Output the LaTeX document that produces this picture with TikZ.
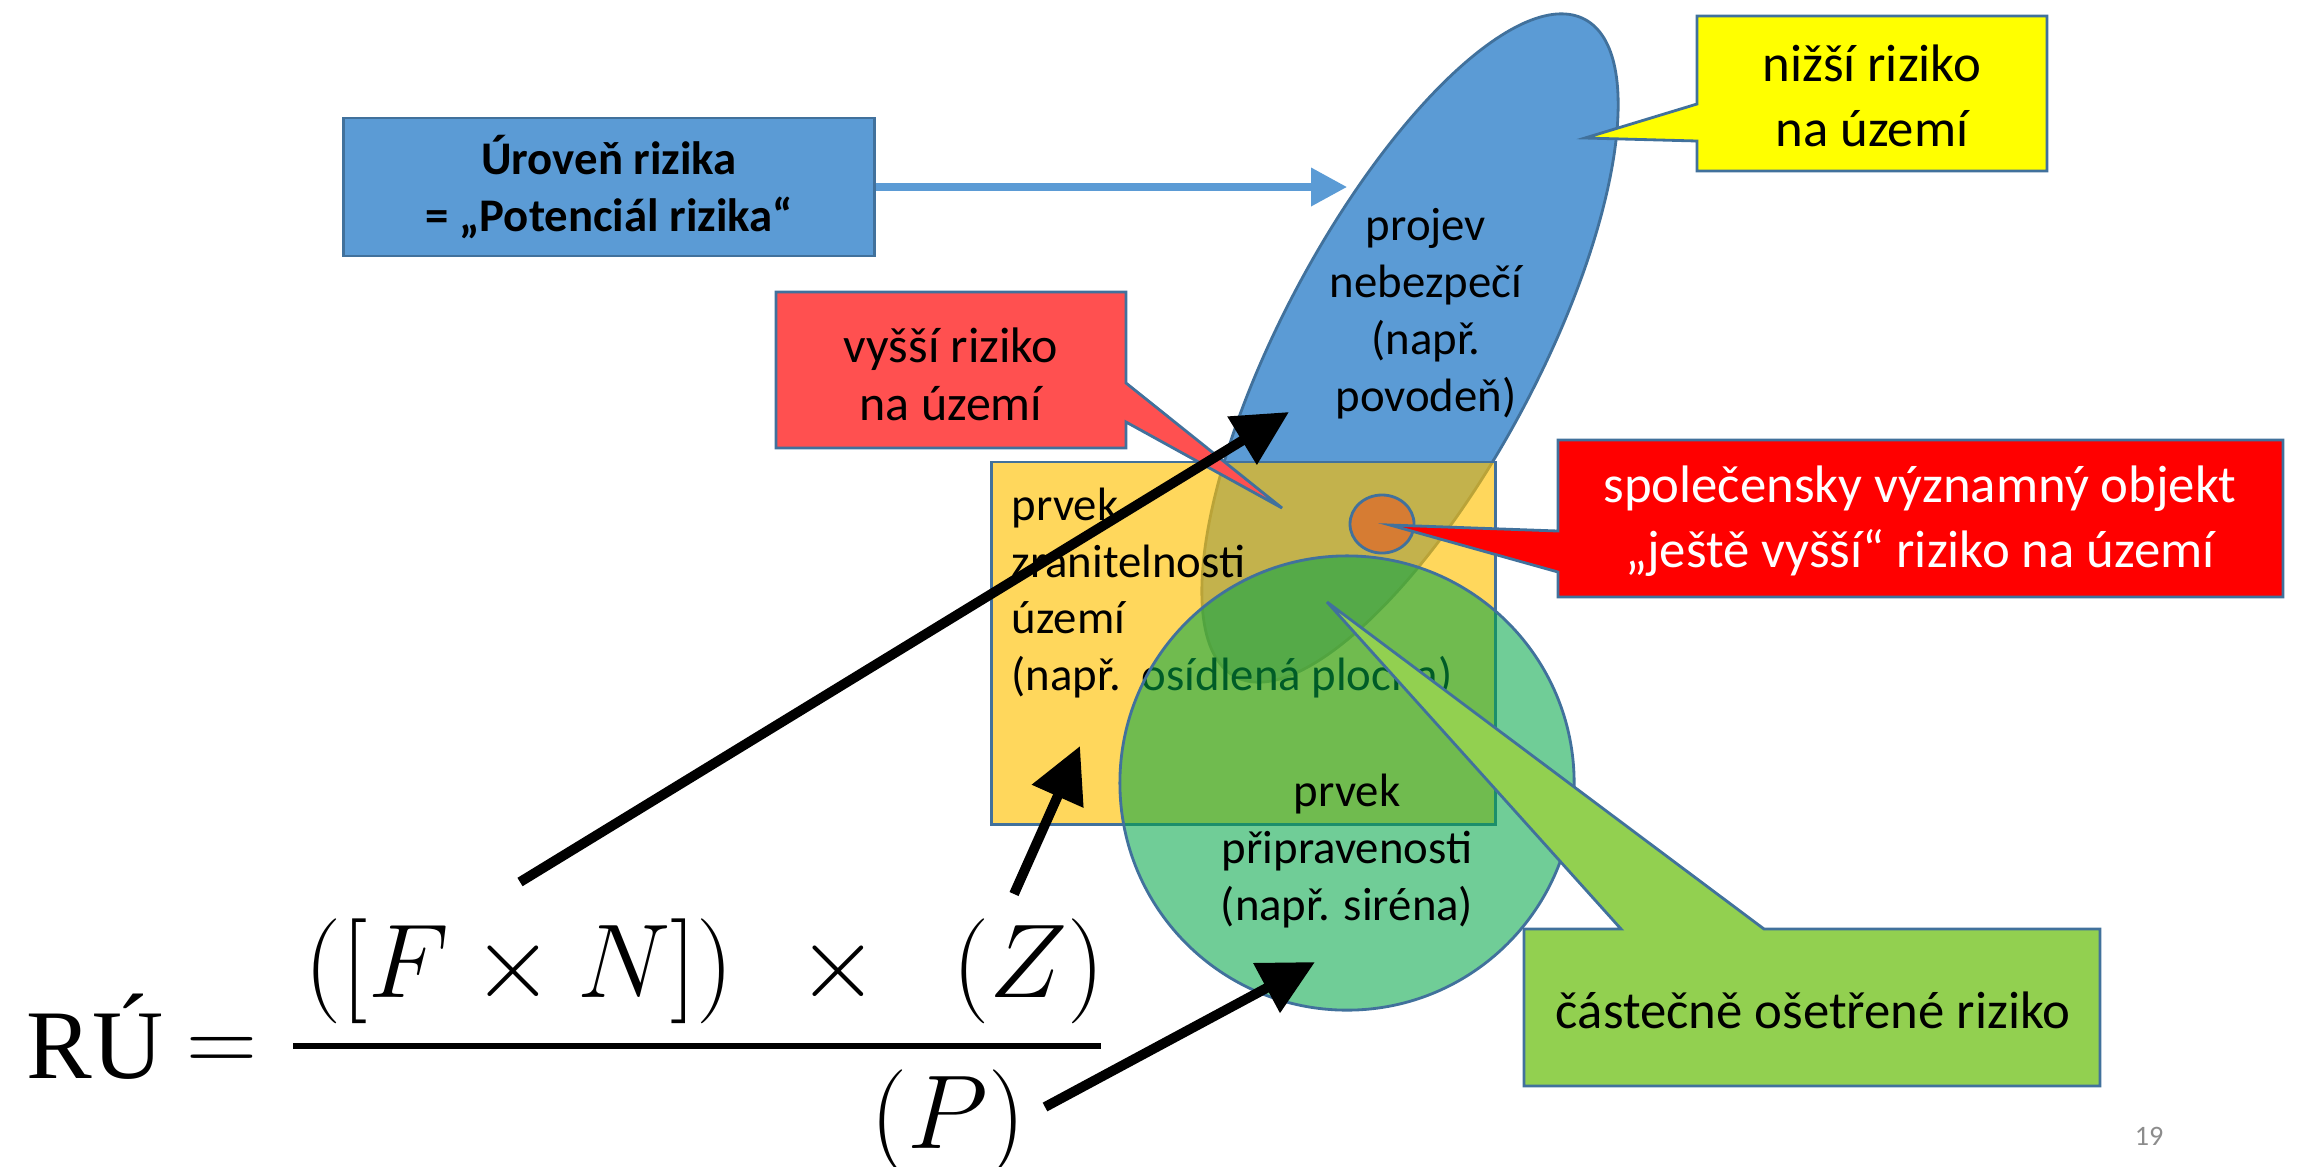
\documentclass[tikz,border=0pt]{standalone}
\usepackage{graphicx}
\usepackage[no-math]{fontspec}
\setmainfont{Carlito}
\newfontfamily\formulafont{Liberation Serif}
\usetikzlibrary{arrows.meta, calc, positioning, shapes.geometric}
\definecolor{hazardblue}{HTML}{5B9BD5}
\definecolor{edgeblue}{HTML}{41719C}
\definecolor{vulngold}{HTML}{FFC000}
\definecolor{prepgreen}{HTML}{00A546}
\definecolor{objorange}{HTML}{D67C33}
\definecolor{highred}{HTML}{FF5050}
\definecolor{topred}{HTML}{FF0000}
\definecolor{lowyellow}{HTML}{FFFF00}
\definecolor{partgreen}{HTML}{92D050}
\definecolor{pagegray}{HTML}{8C8C8C}

\begin{document}
\begin{tikzpicture}[x=0.01cm, y=-0.01cm,
  txt/.style     = {font=\fontsize{13.3}{16.2}\selectfont, align=center, inner sep=0pt},
  shapeline/.style = {draw=edgeblue, line width=0.8pt},
  callbox/.style = {draw=edgeblue, line width=0.8pt, line join=miter},
  calltxt/.style = {font=\fontsize{15}{18.5}\selectfont, align=center, inner sep=0pt},
  frml/.style    = {font=\fontsize{24.88}{30}\selectfont, inner sep=0pt, anchor=base west},
  blk/.style     = {-{Triangle[length=0.55cm,width=0.54cm]}, line width=2.8pt, black},
  blu/.style     = {-{Triangle[length=0.36cm,width=0.37cm]}, line width=2pt, hazardblue},
]
\useasboundingbox (0,0) rectangle (2298,1166);
%%--- Risk level box ---
\node[shapeline, fill=hazardblue, minimum width=5.30cm, minimum height=1.38cm, txt, font=\fontsize{13.3}{16.2}\selectfont\bfseries] (level) at (609,187) {Úroveň rizika\\= „Potenciál rizika“};
%%--- Hazard ellipse ---
\node[ellipse, shapeline, fill=hazardblue, minimum width=7.44cm, minimum height=2.56cm, rotate=62, inner sep=0pt] (hazard) at (1410,348) {};
\node[txt] (hazardtxt) at (1426,314) {projev\\nebezpečí\\(např.\\povodeň)};
\coordinate (hzleft) at (1347,187);
\draw[blu] (level.east) -- (hzleft);
%%--- Vulnerability rectangle ---
\node[shapeline, fill=vulngold, fill opacity=0.64, minimum width=5.03cm, minimum height=3.62cm, inner sep=0pt] (vuln) at (1243.5,643) {};
\node[txt, align=left, anchor=west] (vulntxt) at (1011,593) {prvek\\zranitelnosti\\území\\(např.\ \ osídlená plocha)};
%%--- Significant object ---
\node[ellipse, shapeline, fill=objorange, minimum width=0.64cm, minimum height=0.58cm, inner sep=0pt] (obj) at (1382,524) {};
%%--- Preparedness circle ---
\node[circle, shapeline, fill=prepgreen, fill opacity=0.56, minimum size=4.54cm, inner sep=0pt] (prep) at (1347,783) {};
\node[txt] (preptxt) at (1347,851) {prvek\\připravenosti\\(např. siréna)};
%%--- Callouts ---
\filldraw[callbox, fill=lowyellow] (1697,16) -- (2047,16) -- (2047,171) -- (1697,171) -- (1697,141) -- (1585,138) -- (1697,104) -- cycle;
\node[calltxt] (lowtxt) at (1872,96) {nižší riziko\\na území};
\filldraw[callbox, fill=highred] (776,292) -- (1126,292) -- (1126,383) -- (1282,508) -- (1126,422) -- (1126,448) -- (776,448) -- cycle;
\node[calltxt, font=\fontsize{14.2}{16.5}\selectfont] (hightxt) at (951,374) {vyšší riziko\\na území};
\filldraw[callbox, fill=topred] (1558,440) -- (2283,440) -- (2283,597) -- (1558,597) -- (1558,572) -- (1390,525) -- (1558,531) -- cycle;
\node[calltxt, text=white] (toptxt) at (1920,521) {společensky významný objekt\\„ještě vyšší“ riziko na území};
\filldraw[callbox, fill=partgreen] (1524,929) -- (1621,929) -- (1327,602) -- (1764,929) -- (2100,929) -- (2100,1086) -- (1524,1086) -- cycle;
\node[calltxt] (parttxt) at (1813,1010) {částečně ošetřené riziko};
%%--- Formula ---
\node[frml] (ru)    at (26,1078)  {\scalebox{1.125}{\formulafont RÚ}};
\node[frml] (eq)    at (186,1072) {\scalebox{1.125}{$=$}};
\node[frml] (numfn) at (304,997)  {\scalebox{1.2}{$([F\times N])$}};
\node[frml] (numx)  at (797,997)  {\scalebox{1.2}{$\times$}};
\node[frml] (numz)  at (952,997)  {\scalebox{1.2}{$(Z)$}};
\node[frml] (den)   at (870,1148) {\scalebox{1.2}{$(P)$}};
\coordinate (barl) at (293,1046);
\coordinate (barr) at (1101,1046);
\draw[line width=1.7pt] (barl) -- (barr);
%%--- Black arrows from formula ---
\coordinate (fntail) at (520,882);  \coordinate (fnhead) at (1289,412);
\coordinate (ztail)  at (1014,894); \coordinate (zhead)  at (1080,746);
\coordinate (ptail)  at (1045,1107); \coordinate (phead) at (1315,962);
\draw[blk] (fntail) -- (fnhead);
\draw[blk] (ztail) -- (zhead);
\draw[blk] (ptail) -- (phead);
%%--- Page number ---
\node[font=\fontsize{8}{10}\selectfont, text=pagegray, inner sep=0pt] (pagenum) at (2149,1136) {19};
\end{tikzpicture}
\end{document}
